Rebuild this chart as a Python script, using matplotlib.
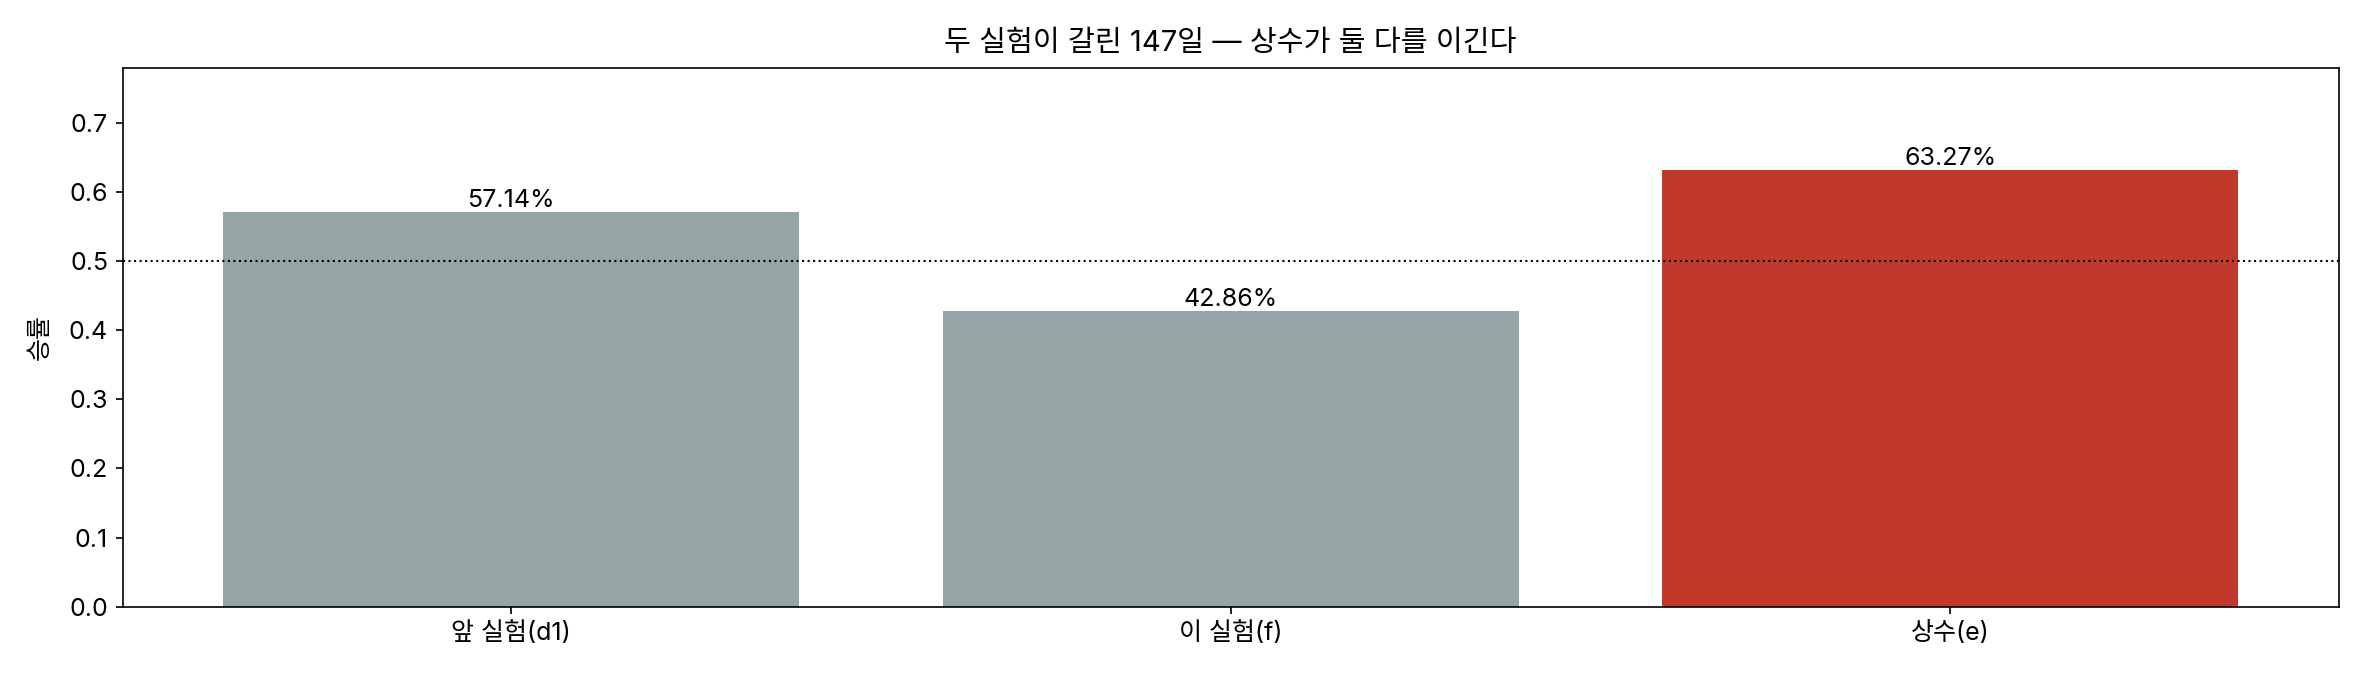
import matplotlib
matplotlib.use("Agg")
import matplotlib.pyplot as plt

plt.rcParams['font.family'] = ['Inter', 'Noto Sans CJK KR', 'DejaVu Sans']
plt.rcParams['font.size'] = 12

categories = ['앞 실험(d1)', '이 실험(f)', '상수(e)']
win_rate = [0.5714, 0.4286, 0.6327]
bar_colors = ['#95a5a6', '#95a5a6', '#c0392b']

fig, ax = plt.subplots(figsize=(2360 / 150, 680 / 150), dpi=150)
fig.subplots_adjust(left=0.052, right=0.991, top=0.9, bottom=0.108)

bars = ax.bar(categories, win_rate, color=bar_colors, width=0.8)
ax.axhline(0.5, color='black', linestyle=':', linewidth=1)

for b, v in zip(bars, win_rate):
    ax.text(b.get_x() + b.get_width() / 2, v, f'{v * 100:.2f}%',
            ha='center', va='bottom', fontsize=12)

ax.set_ylim(0, 0.78)
ax.set_ylabel('승률', labelpad=8)
ax.set_title('두 실험이 갈린 147일 — 상수가 둘 다를 이긴다', fontsize=14, pad=8)

fig.savefig('out.png', dpi=150)
